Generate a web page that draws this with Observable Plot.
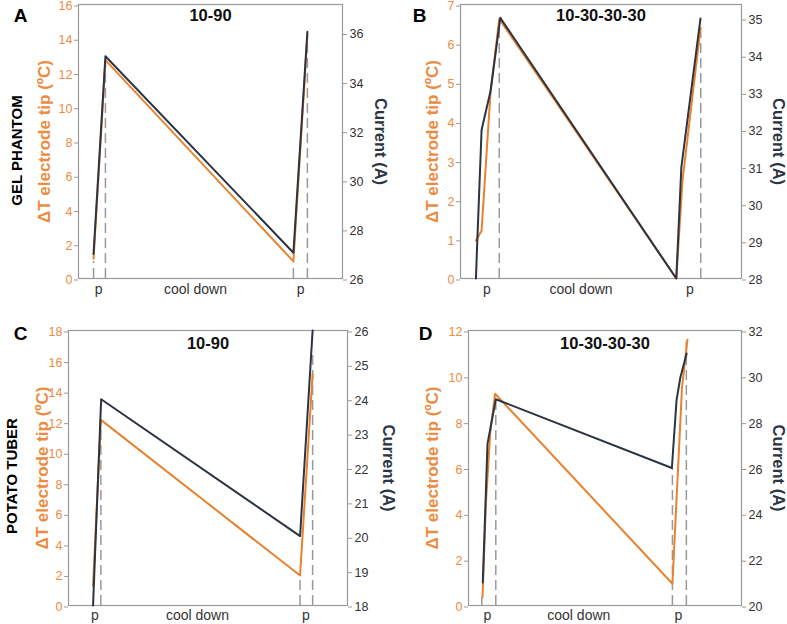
<!DOCTYPE html>
<html>
<head>
<meta charset="utf-8">
<script src="https://cdn.jsdelivr.net/npm/d3@7"></script>
<script src="https://cdn.jsdelivr.net/npm/@observablehq/plot@0.6"></script>
<style>
  html, body { margin: 0; padding: 0; background: #fff; }
  #chart { position: relative; width: 787px; height: 624px; font-family: "Liberation Sans", Arial, sans-serif; }
  #chart > div { position: absolute; }
</style>
</head>
<body>
<div id="chart"></div>
<script>
// ---------- DATA (x = relative time units, 0-100 across each panel) ----------
const panelLetters = ["A", "B", "C", "D"];
const panelTitles = ["10-90", "10-30-30-30", "10-90", "10-30-30-30"];
const rowLabels = ["GEL PHANTOM", "POTATO TUBER"];
const leftAxisLabel = "ΔT electrode tip (ºC)";
const rightAxisLabel = "Current (A)";

// Panel A (gel phantom, 10-90)
const aTemp = [{t: 5.7, v: 1.15}, {t: 10.2, v: 12.75}, {t: 81.4, v: 1.0}, {t: 86.7, v: 14.2}];
const aCurrent = [{t: 5.7, v: 27.0}, {t: 10.2, v: 35.05}, {t: 81.4, v: 27.05}, {t: 86.7, v: 36.05}];
const aDashes = [{t: 5.7, v: 1.0}, {t: 10.2, v: 12.5}, {t: 81.4, v: 0.9}, {t: 86.7, v: 14.0}];
const aXLabels = [{t: 7.6, label: "p"}, {t: 44.3, label: "cool down"}, {t: 84.1, label: "p"}];
const aLeftTicks = [0, 2, 4, 6, 8, 10, 12, 14, 16];
const aRightTicks = [26, 28, 30, 32, 34, 36];

// Panel B (gel phantom, 10-30-30-30)
const bTemp = [{t: 5.5, v: 0.97}, {t: 7.5, v: 1.22}, {t: 10.7, v: 4.78}, {t: 13.8, v: 6.63}, {t: 76.8, v: 0}, {t: 79.0, v: 2.5}, {t: 85.0, v: 6.14}, {t: 85.5, v: 6.4}];
const bCurrent = [{t: 5.5, v: 28.0}, {t: 5.85, v: 28.75}, {t: 7.5, v: 32.0}, {t: 10.7, v: 33.05}, {t: 14.15, v: 35.02}, {t: 76.8, v: 28.0}, {t: 78.6, v: 31.0}, {t: 85.4, v: 35.0}];
const bDashes = [{t: 13.8, v: 6.6}, {t: 85.5, v: 6.3}];
const bXLabels = [{t: 9.4, label: "p"}, {t: 42.9, label: "cool down"}, {t: 81.6, label: "p"}];
const bLeftTicks = [0, 1, 2, 3, 4, 5, 6, 7];
const bRightTicks = [28, 29, 30, 31, 32, 33, 34, 35];

// Panel C (potato tuber, 10-90)
const cTemp = [{t: 8.8, v: 1.3}, {t: 11.6, v: 12.15}, {t: 83.0, v: 1.96}, {t: 87.5, v: 15.16}];
const cCurrent = [{t: 8.8, v: 18.0}, {t: 11.7, v: 24.0}, {t: 83.0, v: 20.02}, {t: 87.5, v: 26.0}];
const cDashes = [{t: 11.6, v: 12.0}, {t: 83.0, v: 1.9}, {t: 87.5, v: 16.6}];
const cXLabels = [{t: 9.5, label: "p"}, {t: 46.2, label: "cool down"}, {t: 85.1, label: "p"}];
const cLeftTicks = [0, 2, 4, 6, 8, 10, 12, 14, 16, 18];
const cRightTicks = [18, 19, 20, 21, 22, 23, 24, 25, 26];

// Panel D (potato tuber, 10-30-30-30)
const dTemp = [{t: 5.13, v: 0.36}, {t: 6.4, v: 4.5}, {t: 8.0, v: 7.6}, {t: 9.74, v: 9.24}, {t: 74.7, v: 0.95}, {t: 78.2, v: 9.5}, {t: 80.2, v: 11.6}];
const dCurrent = [{t: 5.24, v: 21.0}, {t: 6.96, v: 27.05}, {t: 10.0, v: 29.0}, {t: 74.5, v: 26.0}, {t: 76.2, v: 28.95}, {t: 77.6, v: 29.95}, {t: 79.9, v: 31.0}];
const dDashes = [{t: 4.87, v: 0.35}, {t: 10.0, v: 9.0}, {t: 74.7, v: 6.0}, {t: 79.8, v: 11.5}];
const dXLabels = [{t: 6.96, label: "p"}, {t: 40.4, label: "cool down"}, {t: 76.9, label: "p"}];
const dLeftTicks = [0, 2, 4, 6, 8, 10, 12];
const dRightTicks = [20, 22, 24, 26, 28, 30, 32];

// ---------- STYLE ----------
const FONT = '"Liberation Sans", Arial, sans-serif';
const ORANGE = "#e8822e";
const ORANGE_TEXT = "#ec8c42";
const DARK = "#2b3442";
const GRAY = "#9a9a9a";

const panels = [
  {letter: panelLetters[0], title: panelTitles[0], row: rowLabels[0], temp: aTemp, cur: aCurrent, dashes: aDashes, xl: aXLabels,
   lt: aLeftTicks, rt: aRightTicks, yL: [0, 16], yR: [26, 37.16],
   pos: {left: 0, top: 0, w: 393, h: 312, mL: 78, mR: 51, mT: 4, mB: 34}, lab: {l: -34, r: 38, row: -61, rowDy: 9, ldx: -58, ldy: 11, tdy: 11, xdy: 11}},
  {letter: panelLetters[1], title: panelTitles[1], row: null, temp: bTemp, cur: bCurrent, dashes: bDashes, xl: bXLabels,
   lt: bLeftTicks, rt: bRightTicks, yL: [0, 7], yR: [28, 35.38],
   pos: {left: 393, top: 0, w: 394, h: 312, mL: 67, mR: 46, mT: 4, mB: 34}, lab: {l: -28, r: 37, ldx: -41, ldy: 11, tdy: 11, xdy: 11}},
  {letter: panelLetters[2], title: panelTitles[2], row: rowLabels[1], temp: cTemp, cur: cCurrent, dashes: cDashes, xl: cXLabels,
   lt: cLeftTicks, rt: cRightTicks, yL: [0, 18], yR: [18, 26],
   pos: {left: 0, top: 312, w: 393, h: 312, mL: 68, mR: 46, mT: 18, mB: 19}, lab: {l: -26, r: 41, row: -56, rowDy: 8, ldx: -48, ldy: 3, tdy: 13, xdy: 10}},
  {letter: panelLetters[3], title: panelTitles[3], row: null, temp: dTemp, cur: dCurrent, dashes: dDashes, xl: dXLabels,
   lt: dLeftTicks, rt: dRightTicks, yL: [0, 12], yR: [20, 32],
   pos: {left: 393, top: 312, w: 394, h: 312, mL: 75, mR: 46, mT: 18, mB: 19}, lab: {l: -36, r: 37, ldx: -43, ldy: 3, tdy: 13, xdy: 10}}
];

const chart = document.getElementById("chart");

for (const p of panels) {
  const [l0, l1] = p.yL, [r0, r1] = p.yR;
  const toL = v => (v - r0) / (r1 - r0) * (l1 - l0) + l0;
  const fromL = v => (v - l0) / (l1 - l0) * (r1 - r0) + r0;
  const curL = p.cur.map(d => ({t: d.t, v: toL(d.v)}));

  const marks = [
    Plot.frame({stroke: GRAY, strokeWidth: 1.2}),
    Plot.axisY(p.lt, {anchor: "left", tickSize: 4, tickPadding: 2, stroke: GRAY, fill: ORANGE_TEXT, fontSize: 12.5, dy: 1.5, label: null, tickFormat: d => String(d)}),
    Plot.axisY(p.rt.map(toL), {anchor: "right", tickSize: 4, tickPadding: 3, stroke: GRAY, fill: "#333", fontSize: 12.5, dy: 1.5, label: null, tickFormat: d => String(Math.round(fromL(d)))}),
    Plot.ruleX(p.dashes, {x: "t", y1: 0, y2: "v", stroke: "#999", strokeWidth: 1.5, strokeDasharray: "10,5"}),
    Plot.line(p.temp, {x: "t", y: "v", stroke: ORANGE, strokeWidth: 2}),
    Plot.line(curL, {x: "t", y: "v", stroke: DARK, strokeWidth: 2}),
    Plot.text(p.xl, {x: "t", text: "label", frameAnchor: "bottom", lineAnchor: "middle", dy: p.lab.xdy, fontSize: 14, fill: "#333"}),
    Plot.text([p.title], {text: d => d, frameAnchor: "top", lineAnchor: "middle", dy: p.lab.tdy, fontSize: 16.5, fontWeight: "bold", fill: "#111"}),
    Plot.text([p.letter], {text: d => d, frameAnchor: "top-left", textAnchor: "middle", lineAnchor: "middle", dx: p.lab.ldx, dy: p.lab.ldy, fontSize: 19, fontWeight: "bold", fill: "#000"}),
    Plot.text([leftAxisLabel], {text: d => d, frameAnchor: "left", textAnchor: "middle", lineAnchor: "middle", dx: p.lab.l, rotate: -90, fontSize: 17, fontWeight: "bold", fill: ORANGE_TEXT}),
    Plot.text([rightAxisLabel], {text: d => d, frameAnchor: "right", textAnchor: "middle", lineAnchor: "middle", dx: p.lab.r, rotate: 90, fontSize: 16.5, fontWeight: "bold", fill: DARK})
  ];
  if (p.row) {
    marks.push(Plot.text([p.row], {text: d => d, frameAnchor: "left", textAnchor: "middle", lineAnchor: "middle", dx: p.lab.row, dy: p.lab.rowDy, rotate: -90, fontSize: 15, fontWeight: "bold", fill: "#000"}));
  }

  const svg = Plot.plot({
    width: p.pos.w,
    height: p.pos.h,
    marginLeft: p.pos.mL,
    marginRight: p.pos.mR,
    marginTop: p.pos.mT,
    marginBottom: p.pos.mB,
    style: {fontFamily: FONT, overflow: "visible", background: "transparent"},
    x: {domain: [0, 100], axis: null},
    y: {domain: p.yL, axis: null},
    marks
  });
  const wrap = document.createElement("div");
  wrap.style.left = p.pos.left + "px";
  wrap.style.top = p.pos.top + "px";
  wrap.appendChild(svg);
  chart.appendChild(wrap);
}
</script>
</body>
</html>
